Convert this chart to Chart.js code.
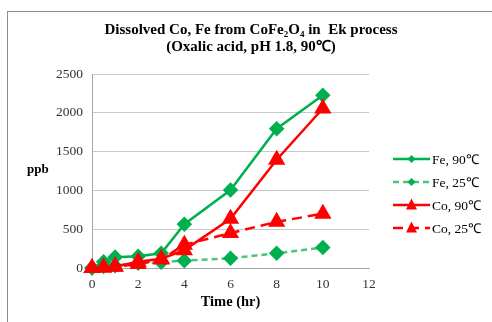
<!DOCTYPE html>
<html>
<head>
<meta charset="utf-8">
<script src="https://cdn.jsdelivr.net/npm/chart.js@4"></script>
<style>
  html, body { margin: 0; padding: 0; background: #fff; overflow: hidden; }
  #wrap { position: relative; width: 492px; height: 322px; }
  #frame { position: absolute; left: 7px; top: 11px; width: 600px; height: 400px; border: 1px solid #8c8c8c; pointer-events: none; }
  canvas { position: absolute; left: 0; top: 0; }
</style>
</head>
<body>
<div id="wrap">
  <canvas id="chart" width="492" height="322"></canvas>
  <div id="frame"></div>
</div>
<script>
// time (hr)
const hours = [0, 0.5, 1, 2, 3, 4, 6, 8, 10];
// dissolved concentration (ppb)
const fe90 = [0, 80, 140, 150, 190, 565, 1005, 1795, 2225];
const fe25 = [0, 20, 30, 60, 75, 95, 125, 190, 265];
const co90 = [0, 5, 20, 80, 120, 230, 635, 1395, 2055];
const co25 = [0, 5, 15, 50, 110, 300, 450, 595, 700];
const xTicks = [0, 2, 4, 6, 8, 10, 12];
const yTicks = [0, 500, 1000, 1500, 2000, 2500];
const titleLines = ['Dissolved Co, Fe from CoFe\u2082O\u2084 in  Ek process', '(Oxalic acid, pH 1.8, 90\u2103)'];

const serif = "'Liberation Serif', 'Times New Roman', serif";

function pts(ys) {
    return hours.map((h, i) => ({ x: h, y: ys[i] }));
}

// title, horizontal "ppb", x title and the legend beside the plot
const extras = {
    id: 'extras',
    afterDraw(chart) {
        const ctx = chart.ctx;
        const area = chart.chartArea;
        ctx.save();
        ctx.fillStyle = '#000';
        ctx.textBaseline = 'middle';
        ctx.textAlign = 'center';
        ctx.font = 'bold 15px ' + serif;
        titleLines.forEach((t, i) => ctx.fillText(t, 251, 30 + i * 17));

        ctx.textAlign = 'left';
        ctx.font = 'bold 13px ' + serif;
        ctx.fillText('ppb', 27, 170);
        ctx.textAlign = 'center';
        ctx.font = 'bold 14.5px ' + serif;
        ctx.fillText('Time (hr)', (area.left + area.right) / 2, 302);

        // legend
        ctx.font = '13.5px ' + serif;
        ctx.textAlign = 'left';
        chart.data.datasets.forEach((ds, i) => {
            const y = 159 + i * 23;
            const x0 = area.right + 24, x1 = area.right + 61;
            ctx.strokeStyle = ds.borderColor;
            ctx.lineWidth = ds.borderWidth;
            ctx.setLineDash(ds.borderDash || []);
            ctx.beginPath();
            ctx.moveTo(x0, y);
            ctx.lineTo(x1, y);
            ctx.stroke();
            ctx.setLineDash([]);
            const r = ds.pointRadius - 2;
            const cx = (x0 + x1) / 2;
            ctx.fillStyle = ds.pointBackgroundColor;
            ctx.beginPath();
            if (ds.pointStyle === 'triangle') {
                ctx.moveTo(cx, y - r * 1.2);
                ctx.lineTo(cx + r, y + r * 0.8);
                ctx.lineTo(cx - r, y + r * 0.8);
            } else {
                ctx.moveTo(cx, y - r);
                ctx.lineTo(cx + r, y);
                ctx.lineTo(cx, y + r);
                ctx.lineTo(cx - r, y);
            }
            ctx.closePath();
            ctx.fill();
            ctx.fillStyle = '#000';
            ctx.fillText(ds.label, x1 + 2, y + 1);
        });
        ctx.restore();
    }
};

new Chart(document.getElementById('chart'), {
    type: 'line',
    data: {
        datasets: [
            {
                label: 'Fe, 90\u2103',
                data: pts(fe90),
                borderColor: '#00b050',
                pointBackgroundColor: '#00b050',
                pointBorderColor: '#00b050',
                borderWidth: 2.5,
                pointStyle: 'rectRot',
                pointRadius: 6,
                clip: false,
                order: 1
            },
            {
                label: 'Fe, 25\u2103',
                data: pts(fe25),
                borderColor: '#4cc47c',
                pointBackgroundColor: '#00b050',
                pointBorderColor: '#00b050',
                borderWidth: 2.5,
                borderDash: [6, 4],
                pointStyle: 'rectRot',
                pointRadius: 6,
                clip: false,
                order: 1
            },
            {
                label: 'Co, 90\u2103',
                data: pts(co90),
                borderColor: '#ff0000',
                pointBackgroundColor: '#ff0000',
                pointBorderColor: '#ff0000',
                borderWidth: 2.5,
                pointStyle: 'triangle',
                pointRadius: 7.5,
                clip: false,
                order: 0
            },
            {
                label: 'Co, 25\u2103',
                data: pts(co25),
                borderColor: '#ff0000',
                pointBackgroundColor: '#ff0000',
                pointBorderColor: '#ff0000',
                borderWidth: 2.5,
                borderDash: [10, 6],
                pointStyle: 'triangle',
                pointRadius: 7.5,
                clip: false,
                order: 0
            }
        ]
    },
    options: {
        responsive: false,
        animation: false,
        events: [],
        layout: { padding: { left: 0, right: 123, top: 74, bottom: 0 } },
        plugins: {
            legend: { display: false },
            tooltip: { enabled: false },
            title: { display: false }
        },
        scales: {
            x: {
                type: 'linear',
                min: 0,
                max: 12,
                afterBuildTicks(scale) {
                    scale.ticks = xTicks.map(v => ({ value: v }));
                },
                afterFit(scale) { scale.height = 54; },
                grid: { display: false, drawTicks: false },
                border: { display: true, color: '#a6a6a6', width: 1 },
                ticks: { padding: 8, color: '#333', font: { family: serif, size: 13.5 }, callback: v => String(v) }
            },
            y: {
                min: 0,
                max: 2500,
                afterBuildTicks(scale) {
                    scale.ticks = yTicks.map(v => ({ value: v }));
                },
                afterFit(scale) { scale.width = 92; },
                grid: { color: '#c8c8c8', drawTicks: false },
                border: { display: true, color: '#a6a6a6', width: 1 },
                ticks: { padding: 9, color: '#333', font: { family: serif, size: 13.5 }, callback: v => String(v) }
            }
        }
    },
    plugins: [extras]
});
</script>
</body>
</html>
